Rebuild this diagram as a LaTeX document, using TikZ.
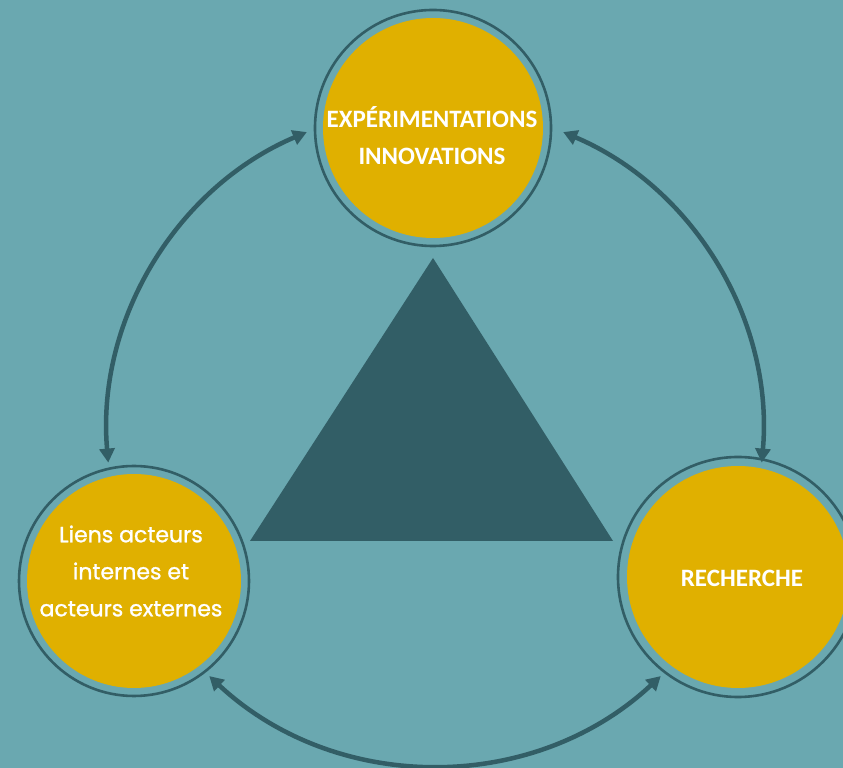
\documentclass[tikz,border=0pt]{standalone}
\usepackage{fontspec}
\setmainfont{Carlito}
\newfontfamily\roundfont{Poppins}[FakeBold=1.2]
\usetikzlibrary{arrows.meta}
\definecolor{bg}{HTML}{6AA8B0}
\definecolor{gold}{HTML}{E0B000}
\definecolor{dark}{HTML}{325E66}
\begin{document}
\begin{tikzpicture}[x=1pt,y=1pt,
  ring/.style={circle, draw=dark, line width=2.6pt, inner sep=0pt},
  disk/.style={circle, fill=gold, inner sep=0pt, text=white, align=center},
  capsfont/.style={font=\fontsize{25}{37}\selectfont\bfseries},
  roundtext/.style={font=\roundfont\fontsize{22}{37}\selectfont},
  conn/.style={draw=dark, line width=4.5pt, {Triangle[length=14pt,width=15pt]}-{Triangle[length=14pt,width=15pt]}}]
\fill[bg] (0,0) rectangle (843,768);
\useasboundingbox (0,0) rectangle (843,768);
% triangle
\fill[dark] (433,510) -- (250,227) -- (613,227) -- cycle;
% circles
\node[ring, minimum size=236pt] (topring) at (433,640) {};
\node[disk, minimum size=220pt] (top) at (433,640) {};
\node[capsfont, text=white, align=center] (toptext) at (432,632) {EXPÉRIMENTATIONS\\INNOVATIONS};
\node[ring, minimum size=230pt] (leftring) at (134,187) {};
\node[disk, minimum size=214pt] (left) at (134,187) {};
\node[roundtext, text=white, align=center] (lefttext) at (131,197) {Liens acteurs\\internes et\\acteurs externes};
\node[ring, minimum size=240pt] (rightring) at (738,191) {};
\node[disk, minimum size=222pt] (right) at (738,191) {};
\node[capsfont, text=white] (righttext) at (742,190) {RECHERCHE};
% connectors on a common circle
\coordinate (c) at (435,334);
\coordinate (a1) at ([shift={(113:328)}]c);
\coordinate (a2) at ([shift={(67:328)}]c);
\coordinate (d1) at ([shift={(227:331)}]c);
\coordinate (d2) at ([shift={(313:331)}]c);
\draw[conn] (a1) arc[start angle=113, end angle=185, radius=328pt];
\draw[conn] (a2) arc[start angle=67, end angle=-5, radius=328pt];
\draw[conn] (d1) arc[start angle=227, end angle=313, radius=331pt];
\end{tikzpicture}
\end{document}
